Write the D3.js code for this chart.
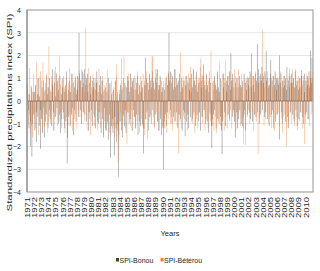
<!DOCTYPE html>
<html lang="en">
<head>
  <meta charset="UTF-8">
  <title>SPI Bonou / Bétérou</title>
  <style>
    body { margin: 0; background: #fff; }
    text { font-family: "Liberation Sans", Arial, sans-serif; fill: #262626; }
  </style>
  <script src="https://d3js.org/d3.v7.min.js"></script>
</head>
<body>
  <div id="chart"></div>

  <script>
    // monthly SPI, one line per year (1971 ... 2010)
    const bonou = [
      0.8, 0.5, -0.4, -1.2, 0.3, -2.0, -0.9, 0.6, -2.45, -1.0, 0.4, -0.6,
      0.4, -1.3, 0.7, -0.5, -1.8, 0.3, -0.7, 1.0, -1.1, 0.2, -2.1, -0.4,
      -0.8, 0.6, -1.4, 0.9, -0.3, -1.6, 0.5, -0.9, 1.1, -0.6, 0.3, -1.2,
      0.6, -0.4, 1.0, -0.8, 0.4, -1.1, 0.7, 1.4, -0.5, -1.3, 0.8, 0.2,
      -0.7, 1.2, -0.3, 0.9, -1.0, 0.5, -0.6, 1.1, -1.4, 0.3, -0.8, 0.6,
      1.0, -0.5, 0.4, -1.2, 0.7, -0.9, 1.3, -2.75, -1.6, 0.5, -0.7, 0.9,
      -1.1, 0.4, -0.6, 1.2, -0.3, 0.8, -1.5, 0.6, -0.4, 1.0, -0.9, 0.3,
      0.5, 1.1, -0.7, 3.0, 1.2, -0.4, 0.9, -1.0, 0.6, 1.3, -0.5, 0.8,
      1.4, -0.6, 0.7, 1.0, -0.9, 1.2, 0.4, -1.3, 0.8, -0.5, 1.1, 0.3,
      -0.4, 0.9, -1.1, 0.6, 1.0, -0.7, 0.5, -1.2, 0.8, 1.3, -0.9, 0.4,
      -1.0, 0.7, -0.5, 1.1, -1.4, 0.3, -0.8, 0.9, -1.6, 0.5, -0.3, -1.2,
      0.6, -1.3, 0.4, -0.9, 1.0, -1.7, -0.6, 0.8, -2.5, -1.1, 0.3, -0.8,
      -1.4, 0.5, -2.4, -0.7, 0.9, -1.2, -1.8, 0.4, -1.0, -3.33, -1.5, 0.3,
      -0.9, 0.7, -1.3, 0.5, -1.6, 1.0, -0.6, -1.1, 0.8, -0.4, -1.4, 0.6,
      1.1, -0.5, 0.9, -1.0, 0.4, 1.2, -0.8, 0.6, -1.3, 0.9, -0.4, 1.0,
      -0.7, 0.5, -1.2, 0.8, -0.6, 1.1, -1.5, 0.3, -0.9, 0.7, -1.1, 0.4,
      0.9, -1.0, 0.6, -2.3, -1.2, 0.7, 1.9, -0.8, 1.0, -0.5, 0.8, -1.3,
      0.5, 1.2, -0.7, 0.9, -1.0, 0.6, 1.3, -0.4, 0.8, -1.1, 0.5, 1.0,
      -0.6, 0.8, 1.4, -0.9, 0.5, -1.3, 0.7, 1.1, -0.8, 0.4, -1.5, 0.6,
      -1.2, -3.0, -0.9, 0.5, -0.6, 1.0, -1.1, 0.7, -0.5, 1.2, 3.0, 0.9,
      1.3, -0.4, 0.8, -1.0, 1.1, 0.5, -0.7, 1.4, -0.9, 0.6, 1.0, -0.5,
      0.7, -1.2, 0.9, -0.6, 1.2, -0.8, 0.4, 1.0, -1.3, 0.6, -0.4, 0.9,
      -0.5, -1.55, 0.7, -0.9, 1.1, -0.6, 0.8, -1.2, 0.5, 1.0, -0.7, 0.4,
      1.2, -0.8, 0.6, 1.4, -0.5, 0.9, -1.1, 0.7, 1.3, -0.6, 0.4, -0.9,
      0.8, -0.5, 1.0, -1.3, 0.6, 0.9, -0.7, 1.1, 1.6, -0.4, 0.7, -1.0,
      0.5, 1.2, -0.9, 0.7, -1.4, 0.4, 1.0, -0.6, 0.8, -1.1, -2.07, -0.8,
      0.9, -0.6, 1.1, -0.4, 0.7, -1.2, 0.5, 1.3, -0.8, 0.6, -1.0, 0.4,
      -0.7, 1.0, -1.3, -2.33, -0.9, 0.6, 1.2, -0.5, 0.8, -1.1, 0.4, 0.9,
      1.1, -0.6, 0.7, 1.3, -0.8, 0.5, 2.1, 0.9, -0.7, 1.2, -0.4, 0.6,
      -0.9, -1.6, 0.8, -0.5, 1.0, -1.2, 0.6, -0.8, 1.1, -0.4, 0.7, -1.0,
      0.6, -1.1, 0.9, -0.7, 1.2, -0.4, 0.8, -1.3, 0.5, 1.0, -0.6, 0.7,
      1.0, -0.5, 1.3, -0.8, 0.6, 2.1, -0.9, 0.7, 1.1, -0.6, 0.4, 1.2,
      -0.7, 0.9, 2.5, -0.5, 1.4, 0.8, -1.0, 1.2, -0.6, 0.9, 1.5, -0.4,
      0.8, 1.1, -0.7, 1.3, -0.5, 2.2, 0.9, -0.8, 1.0, 0.6, -1.1, 0.7,
      1.2, 1.8, -0.6, 0.9, -0.4, 1.1, -1.2, 0.7, 1.3, -0.9, 0.5, 1.0,
      -0.6, 1.0, 0.7, 2.0, -1.7, 0.8, 1.2, -0.5, 0.9, -1.0, 0.6, 1.1,
      0.7, -0.9, 1.0, 0.5, 1.5, -0.7, 0.9, -1.2, 0.6, 1.1, -0.5, 0.8,
      1.2, -0.6, 0.8, 1.0, -0.9, 0.6, 1.3, -0.4, 0.7, -1.1, 0.9, 0.5,
      -0.8, 1.0, 0.6, -0.5, 1.1, 1.35, -0.7, 0.9, -1.0, 0.4, 1.2, -0.6,
      0.9, -0.5, 1.1, 0.7, -0.8, 1.3, 0.6, 1.0, 2.2, 0.8, 1.9, 1.0
    ];

    const beterou = [
      0.5, -1.0, 0.3, -0.6, 1.45, -1.4, 0.7, -1.1, 0.4, -1.6, 1.2, -0.5,
      -0.8, 0.6, -1.2, 1.7, -0.4, 1.0, -1.5, 0.3, -0.9, 1.1, 1.3, -0.7,
      0.9, -1.3, 1.7, -0.6, 0.4, -1.1, 0.8, -0.5, 1.2, -1.4, 0.6, -0.9,
      2.4, -0.7, 0.5, -1.0, 1.1, -0.4, 0.9, -1.3, 0.6, 1.3, -0.8, 1.5,
      -0.6, 0.8, -1.1, 0.4, 1.0, -0.9, 1.95, -0.5, 0.7, -1.2, 0.9, -0.4,
      1.1, -0.8, 0.6, -1.4, 0.5, 1.0, -0.7, 0.3, -1.1, 0.8, 1.45, -0.6,
      -1.0, 0.7, -0.5, 1.2, -1.3, 0.4, 0.9, -0.8, 1.1, -0.6, 0.5, -1.2,
      0.8, -0.4, 1.0, 1.3, -0.7, 0.9, -1.0, 1.4, 0.6, -0.5, 1.2, -0.9,
      0.4, 1.1, 3.2, 0.9, -1.3, 0.7, -0.5, 1.45, -0.8, 1.0, -1.5, 0.6,
      -0.9, 0.5, 1.2, -0.6, 0.8, -1.1, 1.0, -0.4, 0.7, -1.3, 0.9, -0.5,
      1.4, -0.8, 0.6, -1.2, 0.9, -0.5, 1.1, -1.5, 0.4, -0.9, 0.7, -1.3,
      -0.6, 0.8, 1.35, -1.0, 0.5, -1.4, 0.7, -0.8, -1.5, 0.9, -1.2, 0.4,
      -1.1, 0.6, -1.6, 0.9, -0.7, 1.1, 1.6, -1.3, -2.7, -1.8, 0.5, -0.9,
      -0.5, 0.8, 1.9, -1.0, 0.6, -0.7, 1.95, -0.4, -1.2, 0.7, -0.6, -1.9,
      0.9, -0.5, 1.2, -0.8, 0.6, -1.1, 1.0, -0.4, 0.8, -1.3, 0.5, 1.1,
      -0.7, 1.0, -1.2, 0.5, -0.9, 1.3, -0.6, 0.8, -1.4, 0.4, 1.1, -0.8,
      0.6, -1.1, 1.2, -0.5, 0.9, -1.5, 0.7, -0.8, 1.3, -0.4, -1.7, 0.8,
      -0.9, 1.1, -0.6, 0.5, 1.0, 2.0, 1.95, -0.7, 0.9, -1.2, 0.6, 1.4,
      -0.5, 1.2, 1.4, -0.9, 0.7, -1.3, 0.5, 1.0, -0.6, 0.9, -1.1, 0.4,
      0.9, 0.6, -1.2, 0.8, -0.5, 1.1, -1.4, 0.7, -0.8, 1.3, -0.6, 0.5,
      -1.0, 1.2, -0.7, 0.9, -1.3, 0.6, 1.0, -0.5, 1.4, -0.9, 0.7, -1.1,
      0.8, -0.6, -2.3, 1.0, -0.9, 2.14, 0.7, -1.2, 0.5, 1.1, -0.7, 0.9,
      -0.8, 1.1, -0.5, 0.7, -1.3, 0.9, 1.2, -0.6, 0.4, 1.0, 1.5, -0.9,
      0.7, -1.0, 1.3, -0.6, 0.9, -1.4, 0.5, 1.1, -0.8, 0.6, -1.2, 1.0,
      -0.5, 0.8, 1.5, 1.85, -0.7, 1.2, -1.0, 0.6, -0.4, 0.9, -1.3, 0.7,
      1.1, -0.8, 0.6, -1.2, 0.9, -0.5, 1.3, -0.9, 2.2, -0.6, 0.8, -1.1,
      0.5, -1.3, 1.0, -0.7, 0.8, -1.4, 0.6, 1.2, -0.9, 0.4, 1.7, -0.6,
      -1.1, 0.9, -0.5, 1.2, -0.8, 0.6, -1.3, 1.0, 1.8, -0.7, 0.5, -1.2,
      0.8, -0.6, 1.1, -0.9, 1.3, -0.4, 0.7, -1.2, 0.9, -0.5, 1.0, 1.4,
      -0.7, 1.1, -1.3, 0.6, -0.9, 1.0, 1.4, -0.5, 0.8, -1.1, 0.6, 1.2,
      -0.8, 0.7, -1.2, -1.9, -0.6, 1.0, -1.93, 0.5, 0.9, -0.7, 1.1, -0.4,
      0.6, -1.0, 1.2, -0.8, 0.9, -0.5, 1.1, -1.3, 0.7, 1.0, -0.6, 1.3,
      -0.9, 0.8, 1.0, -2.33, 0.6, -0.7, 1.1, 0.9, -0.5, 0.7, 1.2, 3.15,
      0.8, -1.1, 0.6, 1.2, -0.8, 0.9, -0.5, 1.3, -1.0, 0.7, -0.6, 1.0,
      -0.7, 1.0, -1.2, 0.6, 1.1, -0.9, 0.5, -1.3, 0.8, 1.2, -0.6, 0.9,
      1.0, -0.5, 0.8, -1.1, 0.7, 1.3, -0.8, 0.6, -1.4, 0.9, -0.7, 1.1,
      -0.6, 0.9, -1.2, -2.0, 0.7, 1.0, -0.9, 1.2, 1.45, -0.5, 0.8, -1.0,
      0.7, 1.4, -0.8, 1.0, -1.1, 0.6, 1.4, -0.7, 0.9, -1.3, 0.5, 1.1,
      -0.9, 0.6, 1.0, -0.5, 0.8, -1.2, 0.7, 1.1, -0.6, -1.9, 0.9, -1.0,
      0.6, 1.2, -0.8, 1.0, 0.9, -1.1, 0.7, 1.3, -0.6, 1.0, 1.3, -0.5
    ];

    const years = d3.range(1971, 2011);
    const yTicks = [-4, -3, -2, -1, 0, 1, 2, 3, 4];
    const seriesNames = ["SPI-Bonou", "SPI-Bétérou"];
    const seriesColors = ["#404040", "#ED7D31"];

    const width = 320, height = 271;
    const plotLeft = 27, plotRight = 313, plotTop = 10, plotBottom = 192;

    const svg = d3.select("#chart")
      .append("svg")
      .attr("width", width)
      .attr("height", height);

    const x = d3.scaleBand()
      .domain(d3.range(bonou.length))
      .range([plotLeft, plotRight]);

    const y = d3.scaleLinear()
      .domain([-4, 4])
      .range([plotBottom, plotTop]);

    const bw = x.bandwidth();

    // grid
    svg.append("g")
      .selectAll("line")
      .data(yTicks.filter(d => d > -4 && d < 4))
      .join("line")
      .attr("x1", plotLeft)
      .attr("x2", plotRight)
      .attr("y1", d => y(d))
      .attr("y2", d => y(d))
      .attr("stroke", "#e6e6e6")
      .attr("stroke-width", 1);

    // zero line
    svg.append("line")
      .attr("x1", plotLeft).attr("x2", plotRight)
      .attr("y1", y(0)).attr("y2", y(0))
      .attr("stroke", "#999");

    // bars (two series side by side inside each month)
    [bonou, beterou].forEach(function(values, k) {
      svg.append("g")
        .selectAll("rect")
        .data(values)
        .join("rect")
        .attr("x", (d, i) => x(i) + k * bw * 0.5)
        .attr("width", bw * 0.6)
        .attr("y", d => y(Math.max(0, d)))
        .attr("height", d => Math.abs(y(d) - y(0)))
        .attr("fill", seriesColors[k]);
    });

    // plot border
    svg.append("rect")
      .attr("x", plotLeft)
      .attr("y", plotTop)
      .attr("width", plotRight - plotLeft)
      .attr("height", plotBottom - plotTop)
      .attr("fill", "none")
      .attr("stroke", "#a6a6a6")
      .attr("stroke-width", 1.2);

    svg.append("line")
      .attr("x1", plotLeft).attr("x2", plotLeft)
      .attr("y1", plotTop).attr("y2", plotBottom)
      .attr("stroke", "#868686");

    // y axis labels
    const yAxis = d3.axisLeft(y)
      .tickValues(yTicks)
      .tickSize(0)
      .tickPadding(6);

    svg.append("g")
      .attr("transform", `translate(${plotLeft},0)`)
      .call(yAxis)
      .call(g => g.select(".domain").remove())
      .selectAll("text")
      .style("font-size", "7px")
      .attr("fill", "#262626");

    // x labels: one per year, rotated
    svg.append("g")
      .selectAll("text")
      .data(years)
      .join("text")
      .attr("transform", (d, k) => `translate(${x(k * 12) + bw / 2},197) rotate(-90)`)
      .attr("dy", "0.35em")
      .attr("text-anchor", "end")
      .attr("textLength", 21)
      .attr("lengthAdjust", "spacingAndGlyphs")
      .style("font-size", "7px")
      .text(d => d);

    svg.append("text")
      .attr("x", 170)
      .attr("y", 236)
      .attr("text-anchor", "middle")
      .style("font-size", "7.5px")
      .text("Years");

    svg.append("text")
      .attr("transform", "translate(11.5,112.5) rotate(-90)")
      .attr("text-anchor", "middle")
      .attr("textLength", 198)
      .attr("lengthAdjust", "spacingAndGlyphs")
      .style("font-size", "7.5px")
      .text("Standardized precipitations index (SPI)");

    // legend
    const legendX = [116, 160.5];
    const legend = svg.append("g");
    seriesNames.forEach(function(name, k) {
      legend.append("rect")
        .attr("x", legendX[k])
        .attr("y", 258)
        .attr("width", 3)
        .attr("height", 3.5)
        .attr("fill", seriesColors[k]);
      legend.append("text")
        .attr("x", legendX[k] + 3.5)
        .attr("y", 262.5)
        .style("font-size", "7px")
        .text(name);
    });
  </script>
</body>
</html>
